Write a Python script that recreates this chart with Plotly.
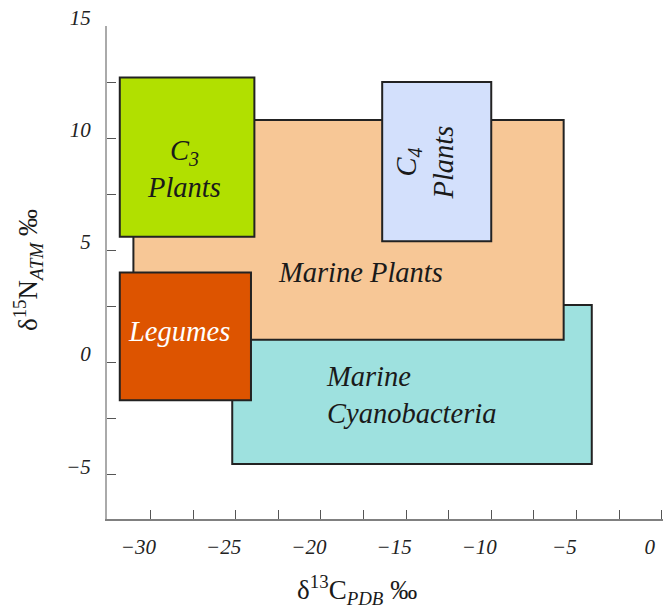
import plotly.graph_objects as go

# Isotope ranges for each source group (delta 13C, delta 15N, per mil)
groups = ["Marine Cyanobacteria", "Marine Plants", "C3 Plants", "C4 Plants", "Legumes"]
x_low = [-25.2, -31.0, -31.8, -16.4, -31.8]
x_high = [-4.1, -5.75, -23.9, -10.0, -24.1]
y_low = [-4.55, 1.0, 5.6, 5.4, -1.7]
y_high = [2.55, 10.8, 12.7, 12.5, 4.0]
fills = ["#9ee1df", "#f7c796", "#b1e000", "#d3e0fc", "#dd5400"]

# Label text and anchor point inside each box
label_text = [
    "Marine<br>Cyanobacteria",
    "Marine Plants",
    "C<sub>3</sub><br>Plants",
    "C<sub>4</sub><br>Plants",
    "Legumes",
]
label_x = [-19.8, -17.7, -28.05, -13.9, -28.3]
label_y = [-1.45, 4.0, 8.6, 8.9, 1.35]
label_color = ["#1a1a1a", "#1a1a1a", "#1a1a1a", "#1a1a1a", "#ffffff"]
label_angle = [0, 0, 0, -90, 0]
label_align = ["left", "center", "center", "center", "center"]
label_anchor = ["left", "center", "center", "center", "center"]

serif = "Liberation Serif"

fig = go.Figure()

for i in range(len(groups)):
    fig.add_shape(
        type="rect",
        xref="x", yref="y",
        x0=x_low[i], x1=x_high[i], y0=y_low[i], y1=y_high[i],
        fillcolor=fills[i],
        line=dict(color="#222222", width=2),
        layer="above",
    )

for i in range(len(groups)):
    fig.add_annotation(
        x=label_x[i], y=label_y[i], xref="x", yref="y",
        text=label_text[i], showarrow=False,
        textangle=label_angle[i], align=label_align[i],
        xanchor=label_anchor[i], yanchor="middle",
        font=dict(family=serif, size=28.5, color=label_color[i], style="italic"),
    )

# Axis titles
fig.add_annotation(
    x=0.45, y=-0.145, xref="paper", yref="paper",
    xanchor="center", yanchor="middle",
    text="δ<sup>13</sup>C<sub><i>PDB</i></sub> ‰", showarrow=False,
    font=dict(family=serif, size=27, color="#1a1a1a"),
)
fig.add_annotation(
    x=-0.142, y=0.505, xref="paper", yref="paper",
    xanchor="center", yanchor="middle",
    text="δ<sup>15</sup>N<sub><i>ATM</i></sub> ‰", showarrow=False, textangle=-90,
    font=dict(family=serif, size=27, color="#1a1a1a"),
)

tick_font = dict(family=serif, size=21, color="#222222", style="italic")

fig.update_xaxes(
    range=[-32.55, 0.08],
    tick0=0, dtick=5,
    ticks="inside", ticklen=9, tickcolor="#555555", tickwidth=1.2,
    minor=dict(dtick=2.5, tick0=0, ticks="inside", ticklen=9, tickcolor="#555555", tickwidth=1.2),
    showline=True, linecolor="#808080", linewidth=1.5,
    showgrid=False, zeroline=False,
    tickfont=tick_font, ticklabelstandoff=8, ticklabelshift=-12,
)
fig.update_yaxes(
    range=[-7.0, 15.0],
    tick0=0, dtick=5,
    ticks="inside", ticklen=9, tickcolor="#555555", tickwidth=1.2,
    minor=dict(dtick=2.5, tick0=0, ticks="inside", ticklen=9, tickcolor="#555555", tickwidth=1.2),
    showline=True, linecolor="#aaaaaa", linewidth=2,
    showgrid=False, zeroline=False,
    tickfont=tick_font, ticklabelstandoff=10, ticklabelshift=-8,
)

fig.update_layout(
    width=663, height=608,
    margin=dict(l=107, r=0, t=26, b=89),
    plot_bgcolor="white", paper_bgcolor="white",
    showlegend=False,
)

fig.write_html("out.html")
